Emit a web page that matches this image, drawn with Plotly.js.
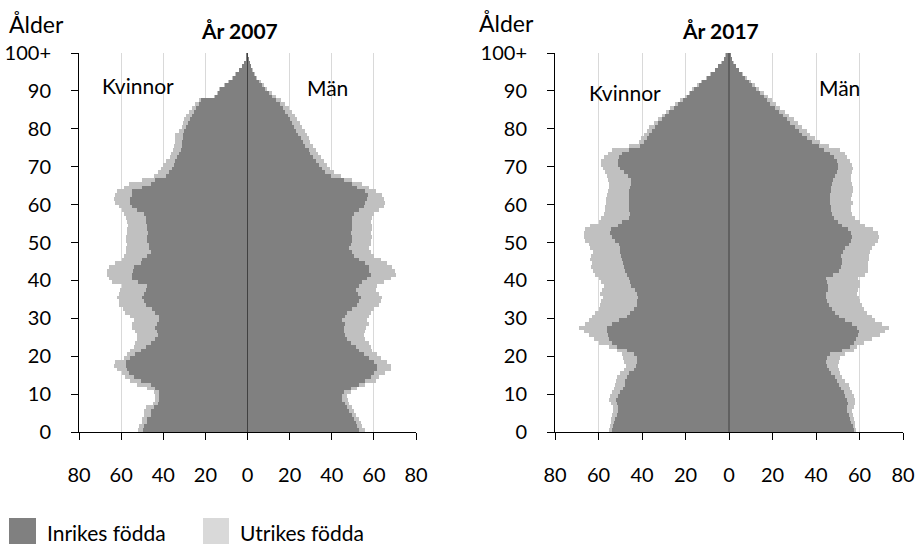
<!DOCTYPE html>
<html>
<head>
<meta charset="utf-8">
<script src="https://cdn.plot.ly/plotly-3.0.1.min.js"></script>
<style>
  html, body { margin: 0; padding: 0; background: #ffffff; }
  #chart { width: 916px; height: 544px; }
</style>
</head>
<body>
<div id="chart"></div>
<script>
// Ålder 0..100+ (one-year age groups), values in thousands
const ages = Array.from({length: 101}, (_, i) => i);
const yTickVals = [0, 10, 20, 30, 40, 50, 60, 70, 80, 90, 100];
const yTickText = ['0', '10', '20', '30', '40', '50', '60', '70', '80', '90', '100+'];
const xTickVals = [-80, -60, -40, -20, 0, 20, 40, 60, 80];
const xTickText = ['80', '60', '40', '20', '0', '20', '40', '60', '80'];

// 2007 – Kvinnor (women): inrikes födda and total (inrikes + utrikes)
const kvinnorInrikes2007 = [49.5,49,47.6,47.6,46,46,44.5,42.5,42,42,41.8,43.7,46,50.8,54,56.3,57.1,57.9,57.9,55.6,
  53.2,50.8,48.4,46,43.7,42.4,42.9,43.7,42.9,42,42.1,43.7,45.3,48.4,49.2,50,49.2,48.4,47.6,52,
  54.8,54.8,54.4,54,50.8,50,47.6,46,46.8,46.8,47.6,47.6,47.2,47.6,47.6,48.4,48.4,49.2,52.4,54.8,
  55.6,55.6,55,54.8,50,46,43.7,38.5,37.4,35.8,35,34.2,33.4,32.6,31.8,31.3,31,30.7,30.7,30.2,
  29.4,28.2,27.1,26.3,25.5,24.4,23.1,22.3,15.5,14,12.9,10.9,8.9,7.1,5.5,4,2.7,1.6,0.85,0.55,0.45];
const kvinnorTotalt2007 = [52,51.6,50,50,49.2,49.2,48.4,45,44,43.7,44.5,47.6,52.4,55.6,58,59.5,61.9,63.5,62.7,58.7,
  57.1,55.6,54,53.2,52.4,52.4,53.2,54.8,55,54,55.6,58,59.2,60.8,61.1,61.9,61.1,60.3,59.5,64.3,
  65.8,66.6,66.6,65.8,62.7,59.5,58.7,57.9,57.6,57.1,57.9,57.6,57.1,57.1,56.7,57.1,57.9,58.7,59.5,61.1,
  63,63.5,63,61.9,58.7,56.3,50,44.5,42.4,41.3,40.2,38.9,36.6,36.1,35.5,35,34.5,34.2,34.2,32.6,
  31.3,30.7,30.2,29.4,27.9,26.3,24.7,23.1,16,14.4,13.3,11.2,9.2,7.3,5.7,4.1,2.8,1.7,0.9,0.6,0.5];

// 2007 – Män (men)
const manInrikes2007 = [52.9,52.1,51.3,50.5,49.7,48.4,47.3,46.2,45,45,45.7,48.9,52.9,56,58.4,60,61.6,61.6,60,57.6,
  55.2,52.9,51.3,48.9,47.3,46.5,45.7,45.7,46.2,45,46.5,47.3,49.7,52.1,52.9,53.7,52.5,51.3,52.9,54.4,
  56.8,58.4,57.9,57.6,56,52.9,50.5,49.4,48.1,48.9,49.7,49.7,48.9,49.7,49.4,49.7,49.7,50.5,52.9,55.2,
  56,56.8,57.3,56,52.1,49.7,45.7,39.8,37,35.5,33.9,32.6,31,29.9,29.1,27.5,26.3,25.2,24.1,22.8,
  22,21.2,20.4,19.3,18,16.8,15.2,13.3,11.7,10.1,8.5,7,5.4,4.1,3.1,2.2,1.5,1,0.6,0.35,0.25];
const manTotalt2007 = [55.7,54.4,53.7,52.9,51.3,50.5,49.4,48.4,47.8,47.3,48.9,52.1,56,60.8,62.4,65.5,67.9,67.9,66.3,63.2,
  61.6,59.2,58.4,57.6,56,55.2,56,56.3,57.6,56.8,57.6,58.4,60,62.4,63.2,63.9,62.4,60.8,61.6,64.7,
  67.9,70.3,70,68.7,66.3,63.2,60,58.4,57.6,58.4,58.4,58.9,58.4,58.9,59.2,58.4,59.2,60,62.4,64.7,
  65.5,64.7,63.9,60.8,57.6,54.4,49.7,44.5,41,39.4,37.8,36.2,34.7,33.6,32.3,31,29.9,29.1,28.3,27.2,
  26,24.7,23.6,22.5,21.2,19.6,18,15.7,13.3,11.7,9.3,7.8,6.2,4.6,3.5,2.5,1.7,1.1,0.7,0.4,0.3];

// 2017 – Kvinnor
const kvinnorInrikes2017 = [53.8,53.5,53,52.3,51.5,51,51,51.5,52,51,50,48.9,48,47.7,46.9,45.8,43.8,42.8,42.3,42.3,
  43.8,46.9,51.5,53.8,55,55.6,56.1,56.1,53.8,50.7,46.9,45.4,43.8,42.3,42.3,41.8,42.3,43.4,44.9,45.4,
  46.1,46.9,47.7,48.4,48.9,49.2,49.5,50,50,50.7,52.3,53.8,54.6,54.1,51,49.2,46.1,45.4,45.8,46.1,
  45.8,46.1,46.1,45.8,45.4,44.9,45.2,46.5,48.4,50,51,51,50.7,49.2,46.1,40.8,39.2,37.7,36.6,35.4,
  34.2,32.6,30.8,29.3,27.4,25.4,23.4,21.3,19.3,17.8,16.2,14,12.2,10.2,8.3,6.4,4.9,3.4,2.4,1.6,0.9];
const kvinnorTotalt2017 = [55,54.7,54.4,54.1,53.8,53.5,53.5,54.1,55,54.6,53.8,53,52.6,52,51.5,50,48.4,47.4,48.4,48.9,
  49.2,51.5,55.3,59.9,62.2,64.2,66.8,68.8,66.4,64.5,63,61.5,59.9,59.2,58.7,58.1,59.2,58.4,57.6,58.7,
  59.9,61.5,62.7,63.3,63,63.8,63.3,62.7,63.8,64.2,66.1,66.8,66.8,66.4,63.8,59.9,58.7,57.6,57.2,56.9,
  56.6,56.6,56.1,55.6,55,55,55.6,56.1,56.9,58.1,58.7,58.7,57.6,55.6,53.8,46.1,41.5,40.3,39.2,37.7,
  36.6,34.6,32.6,30.8,29,27,24.7,22.4,20.4,18.5,17,14.7,12.7,10.6,8.6,6.6,5.1,3.5,2.5,1.7,1];

// 2017 – Män
const manInrikes2017 = [57.3,56.9,56.2,55.8,55,54.3,54.3,54.7,54.3,53.5,52.7,51.6,50.4,49.7,48.6,47,45.8,45.1,44.6,45.1,
  46.6,52,55.8,57.3,58.4,59.3,59.6,58.9,56.6,53.5,50.4,48.9,47.4,45.8,45.1,44.6,44.6,45.5,45.7,45,
  44.6,48,50.5,51.5,52,52,51.6,52.4,53.5,55,56,56.6,56.2,54.5,52,50,48.5,47.4,47,46.8,
  46.6,46.4,46.6,46.8,47,47.4,48,48.8,49.5,50,50,49.6,48.1,46.6,43.5,41.2,38.2,35.9,33.6,32,
  30.2,28.2,26.7,24.7,22.8,21,19,17.5,15.9,14.4,12.4,10.6,9.2,7.5,5.8,4.4,3,1.9,1.3,0.7,0.45];
const manTotalt2017 = [58.4,58.1,57.8,57.3,56.9,56.6,57.3,57.8,58.1,57.3,56.6,55.8,55,53.5,52,51.2,50.7,50.1,50.4,51.2,
  53.5,57.3,58.9,61.9,65.7,69.6,71.9,73.4,70.3,67.3,65.7,63.4,61.9,61.1,60.4,59.6,58.9,59.3,60.4,60,
  59.5,62.5,64,64,64,64.2,64.5,65,65.7,67.3,68.5,68.8,68.5,66,62.7,60,58,56.6,56,56.3,
  56.8,56.3,56.6,57,57,56.6,56.3,56.2,56.6,56.9,56.6,55.8,54.3,53.2,51.2,45.8,42,39.7,37.4,35.9,
  33.6,31.7,29.7,27.4,25.6,23.6,21.6,19.8,17.9,15.9,13.9,12.1,10.3,8.3,6.3,4.8,3.2,2.1,1.4,0.8,0.5];

const seriesNames = ['Inrikes födda', 'Utrikes födda'];
const colorInrikes = '#808080';
const colorUtrikes = '#c0c0c0';
const colorLegendUtrikes = '#d9d9d9';

const W = 916, H = 544;
const px = x => x / W;
const py = y => 1 - y / H;

const neg = arr => arr.map(v => -v);

function barTrace(xs, color, name, xa, ya) {
  return {
    type: 'bar', orientation: 'h', y: ages, x: xs, width: 1, offset: 0,
    marker: {color: color, line: {width: 0}}, name: name,
    xaxis: xa, yaxis: ya, showlegend: false, hoverinfo: 'skip'
  };
}

const traces = [
  barTrace(neg(kvinnorTotalt2007), colorUtrikes, seriesNames[1], 'x', 'y'),
  barTrace(manTotalt2007, colorUtrikes, seriesNames[1], 'x', 'y'),
  barTrace(neg(kvinnorInrikes2007), colorInrikes, seriesNames[0], 'x', 'y'),
  barTrace(manInrikes2007, colorInrikes, seriesNames[0], 'x', 'y'),
  barTrace(neg(kvinnorTotalt2017), colorUtrikes, seriesNames[1], 'x2', 'y2'),
  barTrace(manTotalt2017, colorUtrikes, seriesNames[1], 'x2', 'y2'),
  barTrace(neg(kvinnorInrikes2017), colorInrikes, seriesNames[0], 'x2', 'y2'),
  barTrace(manInrikes2017, colorInrikes, seriesNames[0], 'x2', 'y2')
];

const FONT = 'Lato, "Open Sans", sans-serif';
const tickFont = {family: FONT, size: 20, color: '#000000'};

function xAxis(domain, anchor) {
  return {
    domain: domain, anchor: anchor, range: [-80, 80], fixedrange: true,
    tickmode: 'array', tickvals: xTickVals, ticktext: xTickText,
    ticks: 'outside', ticklen: 7, tickwidth: 1, tickcolor: '#000000',
    showline: true, linecolor: '#000000', linewidth: 1,
    showgrid: true, gridcolor: '#d9d9d9', gridwidth: 1,
    zeroline: false,
    tickfont: tickFont, ticklabelstandoff: 18
  };
}
function yAxis(anchor) {
  return {
    domain: [py(432), py(53)], anchor: anchor, range: [0, 100], fixedrange: true,
    tickmode: 'array', tickvals: yTickVals, ticktext: yTickText,
    ticks: 'outside', ticklen: 7, tickwidth: 1, tickcolor: '#000000',
    showline: true, linecolor: '#000000', linewidth: 1,
    showgrid: false, zeroline: false,
    tickfont: tickFont, ticklabelstandoff: 16
  };
}

function txt(text, x, y, size, opts) {
  return Object.assign({
    text: text, xref: 'paper', yref: 'paper', x: px(x), y: py(y),
    xanchor: 'center', yanchor: 'middle', showarrow: false,
    font: {family: FONT, size: size, color: '#000000'}
  }, opts || {});
}

const annotations = [
  txt('Ålder', 36, 24, 23),
  txt('<b>År 2007</b>', 239, 30, 21),
  txt('Kvinnor', 138, 85, 21),
  txt('Män', 327, 87, 21),
  txt('Ålder', 506, 23, 23),
  txt('<b>År 2017</b>', 720, 30, 21),
  txt('Kvinnor', 625, 92, 21),
  txt('Män', 839, 88, 21),
  txt(seriesNames[0], 45, 532, 21, {xanchor: 'left'}),
  txt(seriesNames[1], 238, 532, 21, {xanchor: 'left'})
];

const shapes = [
  // centre line between Kvinnor and Män, drawn above the bars
  {type: 'line', xref: 'x', yref: 'y domain', x0: 0, x1: 0, y0: 0, y1: 1,
   line: {color: '#404040', width: 1}, layer: 'above'},
  {type: 'line', xref: 'x2', yref: 'y2 domain', x0: 0, x1: 0, y0: 0, y1: 1,
   line: {color: '#404040', width: 1}, layer: 'above'},
  // legend swatches
  {type: 'rect', xref: 'paper', yref: 'paper', x0: px(9), x1: px(36), y0: py(544), y1: py(518),
   fillcolor: colorInrikes, line: {width: 0}},
  {type: 'rect', xref: 'paper', yref: 'paper', x0: px(203), x1: px(229), y0: py(544), y1: py(518),
   fillcolor: colorLegendUtrikes, line: {width: 0}}
];

const layout = {
  width: W, height: H,
  margin: {l: 0, r: 0, t: 0, b: 0, pad: 0},
  paper_bgcolor: '#ffffff', plot_bgcolor: '#ffffff',
  barmode: 'overlay', bargap: 0,
  showlegend: false,
  font: {family: FONT, color: '#000000'},
  xaxis: xAxis([px(79), px(416)], 'y'),
  yaxis: yAxis('x'),
  xaxis2: xAxis([px(555), px(903)], 'y2'),
  yaxis2: yAxis('x2'),
  annotations: annotations,
  shapes: shapes
};

Plotly.newPlot('chart', traces, layout, {displayModeBar: false, staticPlot: true});
</script>
</body>
</html>
